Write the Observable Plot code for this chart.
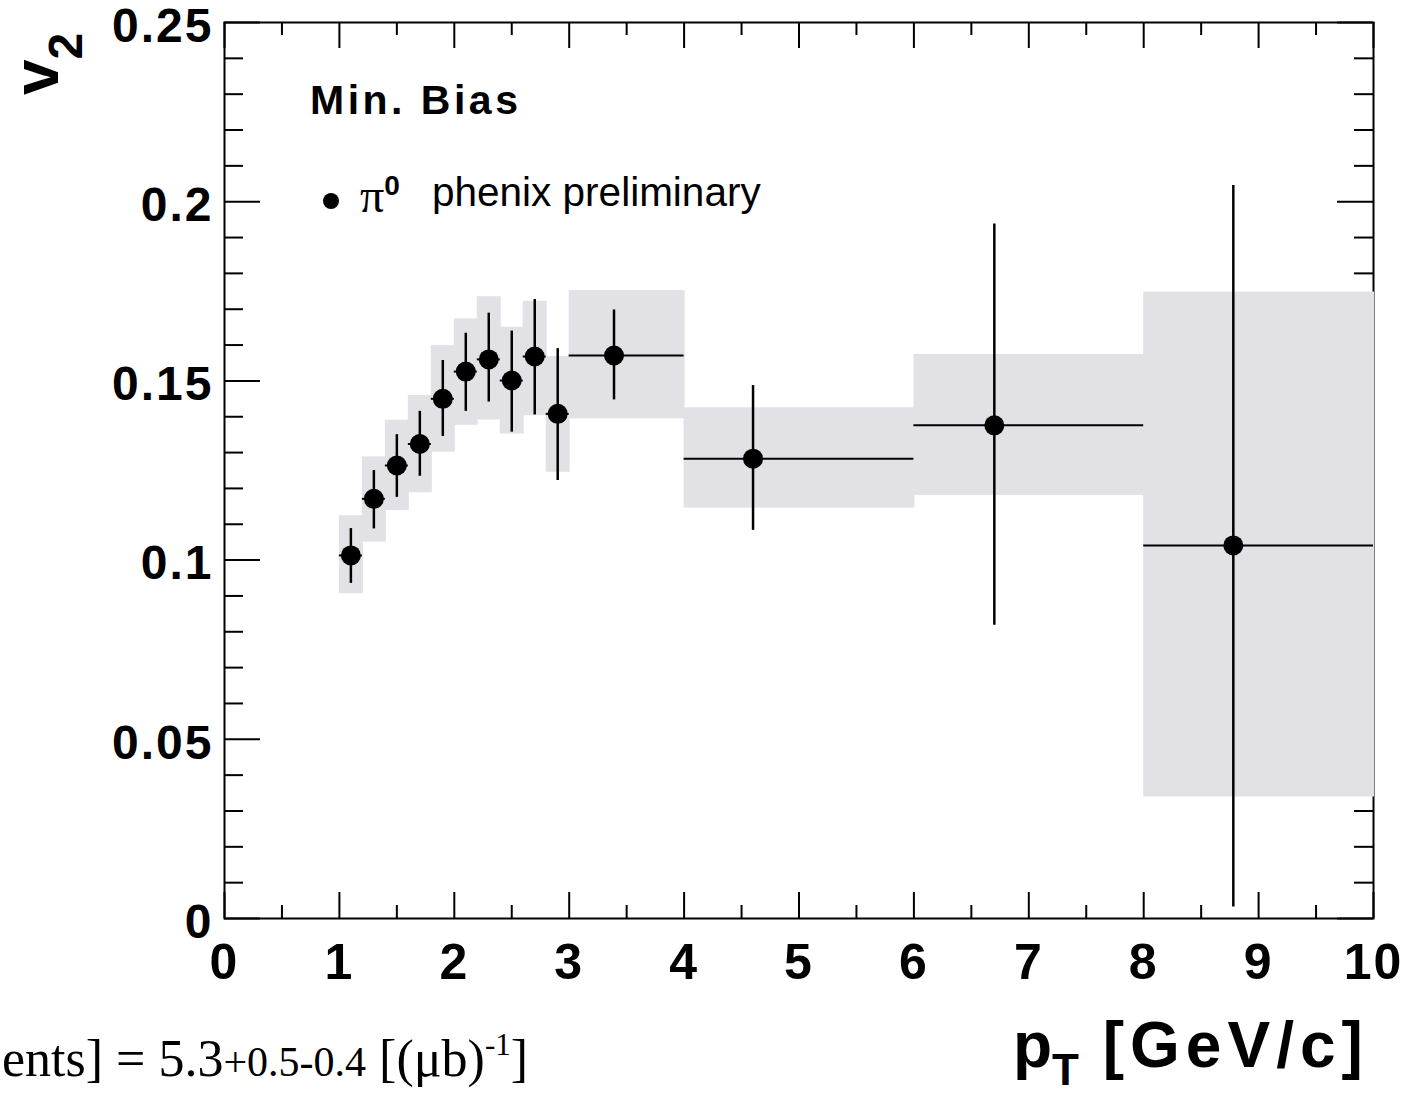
<!DOCTYPE html>
<html>
<head>
<meta charset="utf-8">
<script src="https://cdn.jsdelivr.net/npm/d3@7"></script>
<script src="https://cdn.jsdelivr.net/npm/@observablehq/plot@0.6"></script>
<style>
  html, body { margin: 0; padding: 0; background: white; }
  #chart { position: relative; width: 1407px; height: 1096px; }
</style>
</head>
<body>
<div id="chart"></div>
<script>
// ---- data ----
const pt      = [1.1, 1.3, 1.5, 1.7, 1.9, 2.1, 2.3, 2.5, 2.7, 2.9, 3.39, 4.6, 6.7, 8.78];
const v2      = [0.1013, 0.1171, 0.1264, 0.1324, 0.1450, 0.1526, 0.1560, 0.1501, 0.1568, 0.1408, 0.1571, 0.1283, 0.1376, 0.1041];
const statLo  = [0.0935, 0.1087, 0.1175, 0.1234, 0.1345, 0.1415, 0.1441, 0.1357, 0.1405, 0.1222, 0.1447, 0.1083, 0.0818, 0.0032];
const statHi  = [0.1088, 0.1250, 0.1350, 0.1415, 0.1557, 0.1633, 0.1689, 0.1639, 0.1727, 0.1590, 0.1698, 0.1487, 0.1938, 0.2045];
const sysLo   = [0.0906, 0.1050, 0.1138, 0.1188, 0.1301, 0.1376, 0.1391, 0.1352, 0.1403, 0.1245, 0.1394, 0.1145, 0.1180, 0.0339];
const sysHi   = [0.1124, 0.1288, 0.1390, 0.1459, 0.1599, 0.1673, 0.1735, 0.1650, 0.1722, 0.1568, 0.1752, 0.1425, 0.1574, 0.1748];
const binLo   = [1.0, 1.2, 1.4, 1.6, 1.8, 2.0, 2.2, 2.4, 2.6, 2.8, 3, 4, 6, 8];
const binHi   = [1.2, 1.4, 1.6, 1.8, 2.0, 2.2, 2.4, 2.6, 2.8, 3.0, 4, 6, 8, 10];

const xTickValues = [0, 1, 2, 3, 4, 5, 6, 7, 8, 9, 10];
const xTickLabels = ["0", "1", "2", "3", "4", "5", "6", "7", "8", "9", "10"];
const xMinorTicks = [0.5, 1.5, 2.5, 3.5, 4.5, 5.5, 6.5, 7.5, 8.5, 9.5];
const yTickValues = [0, 0.05, 0.1, 0.15, 0.2, 0.25];
const yTickLabels = ["0", "0.05", "0.1", "0.15", "0.2", "0.25"];
const yMinorTicks = [0.01,0.02,0.03,0.04,0.06,0.07,0.08,0.09,0.11,0.12,0.13,0.14,0.16,0.17,0.18,0.19,0.21,0.22,0.23,0.24];

const legendLabel = "phenix preliminary";
const centralityLabel = "Min. Bias";

const data = pt.map((p, i) => ({pt: p, v2: v2[i], lo: statLo[i], hi: statHi[i], sLo: sysLo[i], sHi: sysHi[i], bLo: binLo[i], bHi: binHi[i]}));

// ---- layout ----
const W = 1407, H = 1096;
const mL = 224, mR = 34, mT = 22, mB = 178;
const innerW = W - mL - mR, innerH = H - mT - mB;
const majY = 36, minY = 19, majX = 26, minX = 13;
const tickFont = "'Liberation Sans', Arial, Helvetica, sans-serif";
const serifFont = "'Liberation Serif', 'Times New Roman', serif";
const xLab = new Map(xTickValues.map((v, i) => [v, xTickLabels[i]]));
const yLab = new Map(yTickValues.map((v, i) => [v, yTickLabels[i]]));

const chart = Plot.plot({
  width: W, height: H,
  marginLeft: mL, marginRight: mR, marginTop: mT, marginBottom: mB,
  x: {domain: [0, 10]},
  y: {domain: [0, 0.25]},
  style: {background: "white", color: "black", overflow: "visible"},
  marks: [
    Plot.frame({stroke: "black", strokeWidth: 2}),
    // inward ticks, all four sides
    Plot.tickY(yTickValues, {y: d => d, insetRight: innerW - majY, stroke: "black", strokeWidth: 2}),
    Plot.tickY(yMinorTicks, {y: d => d, insetRight: innerW - minY, stroke: "black", strokeWidth: 2}),
    Plot.tickY(yTickValues, {y: d => d, insetLeft: innerW - majY, stroke: "black", strokeWidth: 2}),
    Plot.tickY(yMinorTicks, {y: d => d, insetLeft: innerW - minY, stroke: "black", strokeWidth: 2}),
    Plot.tickX(xTickValues, {x: d => d, insetTop: innerH - majX, stroke: "black", strokeWidth: 2}),
    Plot.tickX(xMinorTicks, {x: d => d, insetTop: innerH - minX, stroke: "black", strokeWidth: 2}),
    Plot.tickX(xTickValues, {x: d => d, insetBottom: innerH - majX, stroke: "black", strokeWidth: 2}),
    Plot.tickX(xMinorTicks, {x: d => d, insetBottom: innerH - minX, stroke: "black", strokeWidth: 2}),
    Plot.axisY({ticks: yTickValues, tickSize: 0, tickPadding: 11, tickFormat: d => yLab.get(d), label: null, dy: 4,
      fontSize: 48, fontWeight: "bold", fontFamily: tickFont}),
    Plot.axisX({ticks: xTickValues, tickSize: 0, tickPadding: 25, tickFormat: d => xLab.get(d), label: null,
      fontSize: 50, fontWeight: "bold", fontFamily: tickFont}),
    // systematic boxes
    Plot.rect(data, {x1: "bLo", x2: "bHi", y1: "sLo", y2: "sHi", fill: "#e2e1e5", insetRight: -1}),
    // error bars
    Plot.ruleY(data, {y: "v2", x1: "bLo", x2: "bHi", stroke: "black", strokeWidth: 2}),
    Plot.ruleX(data, {x: "pt", y1: "lo", y2: "hi", stroke: "black", strokeWidth: 2.5}),
    Plot.dot(data, {x: "pt", y: "v2", r: 10, fill: "black", stroke: "none"})
  ]
});

chart.querySelectorAll("g[aria-label='y-axis tick label'] text, g[aria-label='x-axis tick label'] text")
  .forEach(t => t.setAttribute("letter-spacing", "2"));

document.getElementById("chart").appendChild(chart);

// ---- annotations ----
const svg = d3.select(chart);
const ann = svg.append("g").attr("fill", "black").attr("text-anchor", "start");

// y axis title: v_2 (rotated)
const yt = ann.append("text")
  .attr("transform", "translate(58,95) rotate(-90)")
  .attr("font-family", tickFont).attr("font-weight", "bold").attr("font-size", 64);
yt.append("tspan").text("v");
yt.append("tspan").attr("font-size", 48).attr("dy", 24).text("2");

// Min. Bias
ann.append("text").attr("x", 310).attr("y", 114)
  .attr("font-family", tickFont).attr("font-weight", "bold").attr("font-size", 41)
  .attr("letter-spacing", 3.5).text(centralityLabel);

// legend
ann.append("circle").attr("cx", 331).attr("cy", 201).attr("r", 8);
const lp = ann.append("text").attr("x", 360).attr("y", 212);
lp.append("tspan").attr("font-family", serifFont).attr("font-size", 48).text("π");
lp.append("tspan").attr("font-family", tickFont).attr("font-weight", "bold").attr("font-size", 28).attr("dy", -17).text("0");
ann.append("text").attr("x", 432).attr("y", 206)
  .attr("font-family", tickFont).attr("font-size", 40.5).text(legendLabel);

// bottom-left note (clipped in the original)
const note = ann.append("text").attr("x", 2).attr("y", 1076)
  .attr("font-family", serifFont).attr("font-size", 52);
note.append("tspan").text("ents] = 5.3");
note.append("tspan").attr("font-size", 42).text("+0.5-0.4");
note.append("tspan").text(" [(μb)");
note.append("tspan").attr("font-size", 31).attr("dy", -21).text("-1");
note.append("tspan").attr("dy", 21).text("]");

// x axis title
const xt = ann.append("text").attr("x", 1013).attr("y", 1067)
  .attr("font-family", tickFont).attr("font-weight", "bold").attr("font-size", 64);
xt.append("tspan").text("p");
xt.append("tspan").attr("font-size", 44).attr("dy", 18).text("T");
xt.append("tspan").attr("dy", -18).attr("letter-spacing", 6).text(" [GeV/c]");
</script>
</body>
</html>
